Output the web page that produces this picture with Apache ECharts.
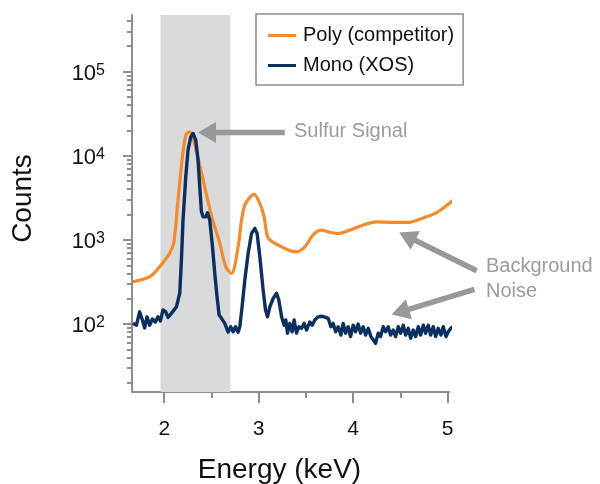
<!DOCTYPE html>
<html><head><meta charset="utf-8">
<script src="https://cdn.jsdelivr.net/npm/echarts@6/dist/echarts.min.js"></script>
<style>html,body{margin:0;padding:0;background:#fff}#c{width:600px;height:484px}</style>
</head><body><div id="c"></div>
<script>
const FONT = "'Liberation Sans', Arial, Helvetica, sans-serif";

const xTicks = [2, 3, 4, 5];
const xMinorTicks = [2.5, 3.5, 4.5];
const yTicks = [100, 1000, 10000, 100000];
const yMinorTicks = [20, 30, 40, 50, 60, 70, 80, 90,
  200, 300, 400, 500, 600, 700, 800, 900,
  2000, 3000, 4000, 5000, 6000, 7000, 8000, 9000,
  20000, 30000, 40000, 50000, 60000, 70000, 80000, 90000,
  200000, 300000, 400000];

const sulfurBand = [1.96, 2.70];

const polyEnergy = [1.666, 1.846, 1.952, 2.058, 2.101, 2.143, 2.185, 2.228, 2.265, 2.302, 2.355, 2.429, 2.503, 2.588, 2.651, 2.712,
  2.782, 2.818, 2.853, 2.906, 2.951, 3.012, 3.057, 3.093, 3.135, 3.242, 3.347, 3.400, 3.488, 3.560, 3.612, 3.665,
  3.735, 3.841, 3.983, 4.124, 4.248, 4.407, 4.583, 4.725, 4.866, 4.971, 5.059];
const polyCounts = [318, 365, 479, 697, 916, 2735, 8170, 17580, 19230, 16760, 9700, 4272, 1880, 916, 479, 400,
  828, 1718, 2590, 3200, 3470, 2711, 1880, 1089, 968, 828, 736, 722, 828, 1089, 1248, 1307,
  1248, 1194, 1333, 1528, 1640, 1614, 1614, 1800, 2064, 2472, 2970];

const monoEnergy = [1.669, 1.706, 1.740, 1.769, 1.793, 1.818, 1.846, 1.875, 1.907, 1.934, 1.960, 1.987, 2.016, 2.040, 2.076, 2.129,
  2.164, 2.182, 2.199, 2.228, 2.252, 2.281, 2.305, 2.334, 2.358, 2.376, 2.394, 2.411, 2.440, 2.458, 2.482, 2.511,
  2.535, 2.559, 2.581, 2.606, 2.623, 2.641, 2.676, 2.704, 2.729, 2.755, 2.782, 2.800, 2.824, 2.853, 2.888, 2.924,
  2.959, 2.983, 3.012, 3.047, 3.072, 3.093, 3.118, 3.153, 3.189, 3.213, 3.242, 3.269, 3.287, 3.305, 3.329, 3.354,
  3.375, 3.400, 3.425, 3.453, 3.481, 3.506, 3.541, 3.566, 3.594, 3.629, 3.665, 3.693, 3.735, 3.764, 3.788, 3.814,
  3.841, 3.870, 3.894, 3.919, 3.947, 3.972, 4.000, 4.025, 4.053, 4.078, 4.106, 4.131, 4.159, 4.188, 4.212, 4.237,
  4.265, 4.290, 4.318, 4.343, 4.371, 4.396, 4.424, 4.449, 4.477, 4.502, 4.530, 4.555, 4.583, 4.608, 4.636, 4.661,
  4.689, 4.714, 4.742, 4.767, 4.794, 4.820, 4.847, 4.873, 4.900, 4.929, 4.953, 4.982, 5.006, 5.032, 5.053];
const monoCounts = [102, 97, 140, 112, 90, 122, 97, 115, 106, 122, 109, 147, 140, 120, 134, 160,
  232, 575, 1718, 5615, 11660, 16760, 18400, 15320, 8870, 4272, 2157, 1880, 1880, 2098, 1718, 828,
  400, 211, 128, 117, 122, 102, 80, 93, 81, 93, 80, 93, 160, 333, 691, 1194,
  1370, 1194, 630, 253, 147, 122, 160, 202, 232, 193, 122, 97, 112, 78, 102, 81,
  112, 78, 93, 89, 102, 85, 106, 97, 112, 122, 124, 122, 117, 93, 102, 81,
  93, 74, 102, 78, 93, 71, 97, 81, 100, 78, 93, 74, 89, 71, 65, 59,
  78, 71, 93, 81, 93, 74, 85, 71, 93, 78, 97, 74, 89, 68, 85, 71,
  93, 74, 97, 78, 97, 74, 93, 71, 89, 74, 93, 71, 81, 89, 93];

// annotation arrows: [tailEnergy, tailCounts, tipEnergy, tipCounts]
const arrowSulfur = [3.276, 18900, 2.358, 18900];
const arrowBgPoly = [5.307, 430, 4.487, 1227];
const arrowBgMono = [5.282, 258, 4.407, 130];

const zip = (xs, ys) => xs.map((x, i) => [x, ys[i]]);

const axisGray = '#8c8d8f';
const annotGray = '#97989a';
const chart = echarts.init(document.getElementById('c'), null, {renderer: 'canvas'});
chart.setOption({
  animation: false,
  backgroundColor: '#fff',
  textStyle: {fontFamily: FONT},
  grid: {left: 132, right: 151, top: 15, bottom: 92, containLabel: false, outerBoundsMode: 'none'},
  legend: {
    data: [{name: 'Poly (competitor)', icon: 'rect'}, {name: 'Mono (XOS)', icon: 'rect'}],
    orient: 'vertical', left: 256, top: 14,
    padding: [11, 9, 9, 12], itemGap: 9, itemWidth: 28, itemHeight: 3,
    borderColor: '#8c8d8f', borderWidth: 1.5, backgroundColor: '#fff',
    textStyle: {fontSize: 20, color: '#111', fontFamily: FONT, padding: [0, 0, 0, 2], lineHeight: 21}
  },
  xAxis: [{
    type: 'value', min: 1.659, max: 5.014,
    name: 'Energy (keV)', nameLocation: 'middle', nameGap: 64,
    nameTextStyle: {fontSize: 28, color: '#111', fontFamily: FONT, padding: [0, 22, 0, 0]},
    axisLine: {lineStyle: {color: axisGray, width: 2}},
    axisTick: {customValues: xTicks, length: 11, lineStyle: {color: axisGray, width: 2}},
    axisLabel: {customValues: xTicks, fontSize: 21, color: '#111', margin: 27, fontFamily: FONT},
    splitLine: {show: false}
  }, {
    type: 'value', min: 1.659, max: 5.014, position: 'bottom',
    axisLine: {show: false},
    axisTick: {customValues: xMinorTicks, length: 6, lineStyle: {color: axisGray, width: 2}},
    axisLabel: {show: false}, splitLine: {show: false}
  }],
  yAxis: [{
    type: 'log', logBase: 10, min: 15.6, max: 470000,
    name: 'Counts', nameLocation: 'middle', nameGap: 95,
    nameTextStyle: {fontSize: 28, color: '#111', fontFamily: FONT, padding: [0, 0, 0, 10]},
    axisLine: {lineStyle: {color: axisGray, width: 2}},
    axisTick: {customValues: yTicks, length: 9, lineStyle: {color: axisGray, width: 2}},
    axisLabel: {
      customValues: yTicks, margin: 27, padding: [4, 0, 0, 0],
      formatter: v => '{b|10}{s|' + Math.round(Math.log10(v)) + '}',
      rich: {
        b: {fontSize: 22, color: '#111', fontFamily: FONT},
        s: {fontSize: 16, color: '#111', fontFamily: FONT, verticalAlign: 'top'}
      }
    },
    splitLine: {show: false}
  }, {
    type: 'log', logBase: 10, min: 15.6, max: 470000, position: 'left',
    axisLine: {show: false},
    axisTick: {customValues: yMinorTicks, length: 5, lineStyle: {color: axisGray, width: 2}},
    axisLabel: {show: false}, splitLine: {show: false}
  }],
  series: [
    {
      name: 'band', type: 'line', data: [], z: 1, silent: true,
      markArea: {
        silent: true,
        itemStyle: {color: '#d9dadc', opacity: 1},
        data: [[{xAxis: sulfurBand[0]}, {xAxis: sulfurBand[1]}]]
      }
    },
    {
      name: 'Poly (competitor)', type: 'line', data: zip(polyEnergy, polyCounts),
      symbol: 'none', smooth: 0.3, clip: false, z: 3,
      color: '#f58a2a', lineStyle: {color: '#f58a2a', width: 3.2}
    },
    {
      name: 'Mono (XOS)', type: 'line', data: zip(monoEnergy, monoCounts),
      symbol: 'none', clip: false, z: 4,
      color: '#0b2f5f', lineStyle: {color: '#0b2f5f', width: 3.4, join: 'round'}
    }
  ]
});

// annotation arrows and texts, positioned through the chart's own scales
function arrowGraphic(a) {
  const t = chart.convertToPixel({xAxisIndex: 0, yAxisIndex: 0}, [a[0], a[1]]);
  const h = chart.convertToPixel({xAxisIndex: 0, yAxisIndex: 0}, [a[2], a[3]]);
  const dx = h[0] - t[0], dy = h[1] - t[1];
  const len = Math.sqrt(dx * dx + dy * dy);
  const ux = dx / len, uy = dy / len;
  const headLen = 18, headHalf = 10.5;
  const bx = h[0] - ux * headLen, by = h[1] - uy * headLen;
  return [
    {type: 'line', z: 50, silent: true,
      shape: {x1: t[0], y1: t[1], x2: bx + ux * 2, y2: by + uy * 2},
      style: {stroke: annotGray, lineWidth: 5.5}},
    {type: 'polygon', z: 50, silent: true,
      shape: {points: [[h[0], h[1]], [bx - uy * headHalf, by + ux * headHalf], [bx + uy * headHalf, by - ux * headHalf]]},
      style: {fill: annotGray}}
  ];
}
chart.setOption({
  graphic: [
    ...arrowGraphic(arrowSulfur),
    ...arrowGraphic(arrowBgPoly),
    ...arrowGraphic(arrowBgMono),
    {type: 'text', left: 294, top: 121, z: 50, style: {text: 'Sulfur Signal', fontSize: 20, fontFamily: FONT, fill: '#9a9b9d'}},
    {type: 'text', left: 486, top: 256, z: 50, style: {text: 'Background', fontSize: 20, fontFamily: FONT, fill: '#9a9b9d'}},
    {type: 'text', left: 486, top: 281, z: 50, style: {text: 'Noise', fontSize: 20, fontFamily: FONT, fill: '#9a9b9d'}}
  ]
});
</script>
</body></html>
